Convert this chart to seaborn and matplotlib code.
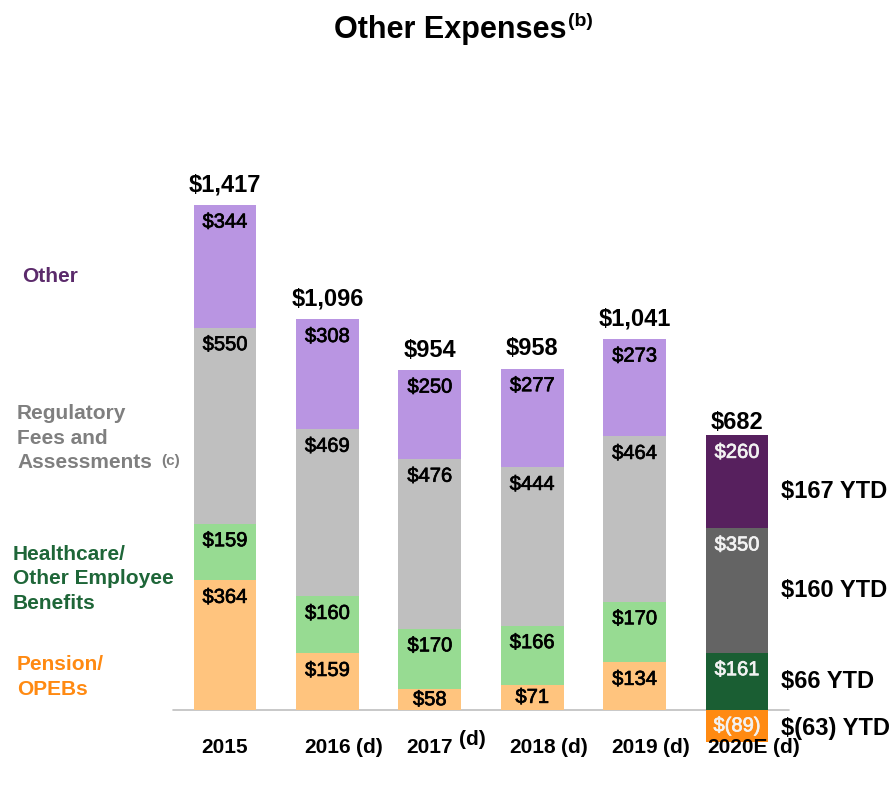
"""
Other Expenses stacked bar chart (2015 - 2020E).
"""

import matplotlib
matplotlib.use("Agg")
import numpy as np
import pandas as pd
import matplotlib.pyplot as plt
import matplotlib.patheffects as pe
import seaborn as sns

# Data ($ millions)
years = ["2015", "2016", "2017", "2018", "2019", "2020E"]
year_notes = ["", "(d)", "(d)", "(d)", "(d)", "(d)"]
pension = [364, 159, 58, 71, 134, -89]
healthcare = [159, 160, 170, 166, 170, 161]
regulatory = [550, 469, 476, 444, 464, 350]
other = [344, 308, 250, 277, 273, 260]
totals = [1417, 1096, 954, 958, 1041, 682]
# 2020 YTD figures, one per segment (pension, healthcare, regulatory, other)
ytd_values = [-63, 66, 160, 167]

# Colours: historical years light, 2020E dark
light = {"pension": "#FFC47E", "healthcare": "#97DB92", "regulatory": "#BFBFBF", "other": "#B995E2"}
dark = {"pension": "#FF8A12", "healthcare": "#1A5E33", "regulatory": "#646464", "other": "#57205E"}
label_colors = {"pension": "#FF8A12", "healthcare": "#1E6638", "regulatory": "#7F7F7F", "other": "#5B2A6B"}

sns.set_theme(style="white")
plt.rcParams["font.family"] = ["Liberation Sans", "DejaVu Sans"]

W, H = 893, 785


def fx(x):
    return x / W


def fy(y):
    return 1 - y / H


def fmt(v):
    return f"$({abs(v)})" if v < 0 else f"${v:,}"


df = pd.DataFrame({
    "year": years,
    "pension": pension,
    "healthcare": healthcare,
    "regulatory": regulatory,
    "other": other,
    "total": totals,
})
df["pos_pension"] = df["pension"].clip(lower=0)
df["top_pension"] = df["pension"]
df["top_healthcare"] = df["pos_pension"] + df["healthcare"]
df["top_regulatory"] = df["top_healthcare"] + df["regulatory"]
df["top_other"] = df["top_regulatory"] + df["other"]
df["bot_pension"] = 0
df["bot_healthcare"] = df["pos_pension"]
df["bot_regulatory"] = df["top_healthcare"]
df["bot_other"] = df["top_regulatory"]

segments = ["pension", "healthcare", "regulatory", "other"]

fig = plt.figure(figsize=(W / 100, H / 100), dpi=100)
ax = fig.add_axes([0, 0, 1, 1])

# baseline
ax.axhline(0, xmin=fx(173), xmax=fx(789), color="#BFBFBF", lw=1.2, zorder=0)

# overlapping cumulative bars, tallest first
for seg in reversed(segments):
    pal = [light[seg]] * (len(years) - 1) + [dark[seg]]
    sns.barplot(data=df, x="year", y=f"top_{seg}", hue="year", palette=pal,
                order=years, hue_order=years, legend=False, width=0.615,
                saturation=1, linewidth=0, ax=ax, zorder=2)

# segment value labels
for i, row in df.iterrows():
    last = row["year"] == years[-1]
    col = "#F2F2F2" if last else "black"
    for seg in segments:
        v = row[seg]
        if v < 0:
            y = v / 2
        else:
            top = row[f"top_{seg}"]
            y = top - min(48, v / 2)
        ax.text(i, y, fmt(v), ha="center", va="center", fontsize=14.5,
                color=col, zorder=5,
                path_effects=[pe.withStroke(linewidth=0.5, foreground=col)])
    # total above bar
    off = 36 if last else 56
    ax.text(i, row["top_other"] + off, fmt(row["total"]), ha="center",
            va="center", fontsize=17, fontweight="bold", color="black")
    # year label + note
    t = ax.text(i, -106, row["year"], ha="center", va="center",
                fontsize=15, fontweight="bold", color="black")
    note = year_notes[i]
    if note:
        raise_pts = 6 if row["year"] == "2017" else 0
        ax.annotate(note, xy=(1, 0.5), xycoords=t, xytext=(4, raise_pts),
                    textcoords="offset points", ha="left", va="center",
                    fontsize=15, fontweight="bold", color="black")

# YTD labels next to the 2020E bar
last = df.iloc[-1]
for seg, ytd in zip(segments, ytd_values):
    if last[seg] < 0:
        y = last[seg] / 2 - 8
    else:
        y = (last[f"bot_{seg}"] + last[f"top_{seg}"]) / 2
        if seg == "other":
            y -= 28
    ax.text(len(years) - 1 + 0.43, y, f"{fmt(ytd)} YTD", ha="left", va="center",
            fontsize=17, fontweight="bold", color="black")

# axis mapping: bar i centred at pixel 225 + 102.4*i, $1 = 0.3564 px, zero at y=710
ax.set_xlim((0 - 225) / 102.4, (W - 225) / 102.4)
ax.set_ylim((710 - H) / 0.3564, 710 / 0.3564)
ax.set_axis_off()

# left-hand category labels
fig.text(fx(22), fy(277), "Other", ha="left", va="center", fontsize=15,
         fontweight="bold", color=label_colors["other"])
fig.text(fx(17), fy(438), "Regulatory\nFees and\nAssessments", ha="left",
         va="center", fontsize=15, fontweight="bold",
         color=label_colors["regulatory"], linespacing=1.35)
fig.text(fx(161), fy(461), "(c)", ha="left", va="center", fontsize=11,
         fontweight="bold", color=label_colors["regulatory"])
fig.text(fx(13), fy(579), "Healthcare/\nOther Employee\nBenefits", ha="left",
         va="center", fontsize=15, fontweight="bold",
         color=label_colors["healthcare"], linespacing=1.35)
fig.text(fx(17), fy(677), "Pension/\nOPEBs", ha="left", va="center",
         fontsize=15, fontweight="bold", color=label_colors["pension"],
         linespacing=1.35)

# title with superscript note
fig.text(fx(567), fy(38), "Other Expenses", ha="right", va="baseline",
         fontsize=22, fontweight="bold", color="black")
fig.text(fx(568), fy(21), "(b)", ha="left", va="center", fontsize=14,
         fontweight="bold", color="black")

fig.savefig("out.png", dpi=100)
